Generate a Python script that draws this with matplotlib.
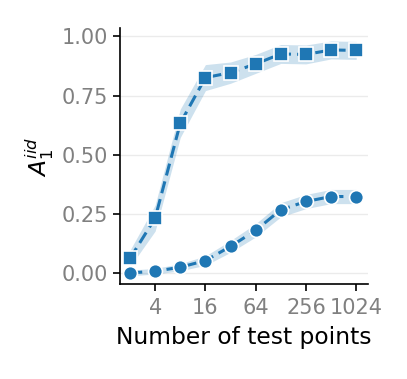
import matplotlib
matplotlib.use("Agg")
import matplotlib.pyplot as plt
import seaborn as sns
import numpy as np

# number of test points
n_points = [2, 4, 8, 16, 32, 64, 128, 256, 512, 1024]

# square series (upper curve)
sq_mean = [0.061, 0.232, 0.633, 0.826, 0.847, 0.884, 0.926, 0.924, 0.943, 0.941]
sq_err = [0.035, 0.055, 0.060, 0.055, 0.045, 0.040, 0.040, 0.040, 0.038, 0.038]

# circle series (lower curve)
ci_mean = [0.0, 0.007, 0.024, 0.052, 0.112, 0.18, 0.267, 0.302, 0.323, 0.323]
ci_err = [0.012, 0.012, 0.015, 0.02, 0.025, 0.028, 0.03, 0.03, 0.03, 0.03]

sns.set_style("ticks")
blue = "#1f77b4"

fig = plt.figure(figsize=(4.07, 3.79), dpi=100)
ax = fig.add_axes([0.295, 0.25, 0.61, 0.675])

x = np.array(n_points)
for mean, err, mk in [(sq_mean, sq_err, "s"), (ci_mean, ci_err, "o")]:
    m = np.array(mean)
    e = np.array(err)
    ax.fill_between(x, m - e, m + e, color=blue, alpha=0.22, lw=0)
    ax.plot(x, m, color=blue, ls="--", lw=2.2, marker=mk, ms=10,
            mec="white", mew=1.2, dashes=(4, 2))

ax.set_xscale("log", base=2)
ax.set_xticks([4, 16, 64, 256, 1024])
ax.set_xticklabels(["4", "16", "64", "256", "1024"])
ax.minorticks_off()
ax.set_xlim(1.52, 1430)
ax.set_ylim(-0.048, 1.034)
ax.set_yticks([0, 0.25, 0.5, 0.75, 1.0])
ax.yaxis.grid(True, color="#ebebeb", lw=1)
ax.set_axisbelow(True)
ax.tick_params(labelsize=15, labelcolor="grey", length=5, width=1.2,
               color="black")
ax.tick_params(axis="x", pad=5)
for s in ["left", "bottom"]:
    ax.spines[s].set_linewidth(1.2)
    ax.spines[s].set_color("black")
sns.despine(ax=ax)

ax.set_xlabel("Number of test points", fontsize=16.8, color="black", labelpad=6)
ax.set_ylabel(r"$A_1^{iid}$", fontsize=16.8, color="black")

fig.savefig("out.png", dpi=100)
